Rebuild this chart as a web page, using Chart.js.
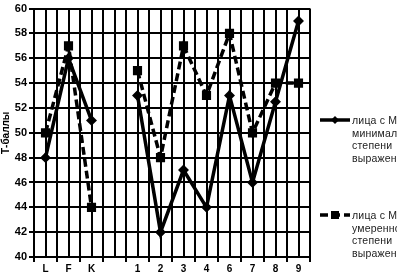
<!DOCTYPE html>
<html>
<head>
<meta charset="utf-8">
<script src="https://cdn.jsdelivr.net/npm/chart.js@4/dist/chart.umd.min.js"></script>
<style>
  html, body { margin: 0; padding: 0; background: #fff; overflow: hidden; }
  #wrap { position: relative; width: 397px; height: 274px; overflow: hidden; }
  canvas { position: absolute; left: 0; top: 0; }
  .leg { position: absolute; font-family: "Liberation Sans", Arial, sans-serif; font-size: 10.5px; line-height: 12.5px; color: #222; white-space: nowrap; letter-spacing: 0.2px; }
  .sym { position: absolute; }
</style>
</head>
<body>
<div id="wrap">
  <canvas id="c" width="397" height="274"></canvas>
  <svg class="sym" style="left:318px;top:112px" width="34" height="16">
    <line x1="2" y1="8" x2="32" y2="8" stroke="#000" stroke-width="3.5"/>
    <polygon points="17,4 21,8 17,12 13,8" fill="#000"/>
  </svg>
  <div class="leg" id="leg1" style="left:352px;top:114px"></div>
  <svg class="sym" style="left:318px;top:207px" width="34" height="16">
    <line x1="2" y1="8" x2="32" y2="8" stroke="#000" stroke-width="3.5" stroke-dasharray="8,4"/>
    <rect x="13" y="4" width="8" height="8" fill="#000"/>
  </svg>
  <div class="leg" id="leg2" style="left:352px;top:209px"></div>
</div>
<script>
const categories = ['L', 'F', 'K', '', '1', '2', '3', '4', '6', '7', '8', '9'];
const seriesMinimal = [48, 56, 51, null, 53, 42, 47, 44, 53, 46, 52.5, 59];
const seriesModerate = [50, 57, 44, null, 55, 48, 57, 53, 58, 50, 54, 54];
const legendMinimal = ['лица с МД', 'минимальной', 'степени', 'выраженности'];
const legendModerate = ['лица с МД', 'умеренной', 'степени', 'выраженности'];
const yTitle = 'Т-баллы';

document.getElementById('leg1').innerHTML = legendMinimal.join('<br>');
document.getElementById('leg2').innerHTML = legendModerate.join('<br>');

const centerLines = {
  id: 'centerLines',
  beforeDatasetsDraw(chart) {
    const ctx = chart.ctx, x = chart.scales.x, a = chart.chartArea;
    ctx.save();
    ctx.strokeStyle = '#000';
    ctx.lineWidth = 2;
    for (let i = 0; i < categories.length; i++) {
      const px = Math.round(x.getPixelForValue(i));
      ctx.beginPath();
      ctx.moveTo(px, a.top);
      ctx.lineTo(px, a.bottom);
      ctx.stroke();
    }
    ctx.restore();
  }
};

new Chart(document.getElementById('c'), {
  type: 'line',
  data: {
    labels: categories,
    datasets: [
      {
        label: legendMinimal.join(' '),
        data: seriesMinimal,
        borderColor: '#000',
        backgroundColor: '#000',
        borderWidth: 3.5,
        pointStyle: 'rectRot',
        pointRadius: 3,
        spanGaps: false,
        tension: 0
      },
      {
        label: legendModerate.join(' '),
        data: seriesModerate,
        borderColor: '#000',
        backgroundColor: '#000',
        borderWidth: 3.5,
        borderDash: [8, 4],
        pointStyle: 'rect',
        pointRadius: 4,
        spanGaps: false,
        tension: 0
      }
    ]
  },
  options: {
    responsive: false,
    animation: false,
    events: [],
    layout: { padding: { top: 5, right: 87, bottom: 0, left: 0 } },
    plugins: { legend: { display: false }, tooltip: { enabled: false } },
    scales: {
      x: {
        offset: true,
        grid: { offset: true, color: '#000', lineWidth: 2, tickLength: 5, drawOnChartArea: true },
        border: { color: '#000', width: 2 },
        ticks: { color: '#000', font: { family: 'Liberation Sans', size: 10, weight: 'bold' }, padding: 1, autoSkip: false, maxRotation: 0 },
        afterFit(s) { s.height = 17; }
      },
      y: {
        min: 40, max: 60,
        ticks: { stepSize: 2, color: '#000', font: { family: 'Liberation Sans', size: 11, weight: 'bold' }, padding: 2 },
        grid: { color: '#000', lineWidth: 2, tickLength: 5 },
        border: { color: '#000', width: 2 },
        title: { display: true, text: yTitle, color: '#000', font: { family: 'Liberation Sans', size: 10, weight: 'bold' }, padding: 0 },
        afterFit(s) { s.width = 34; }
      }
    }
  },
  plugins: [centerLines]
});
</script>
</body>
</html>
